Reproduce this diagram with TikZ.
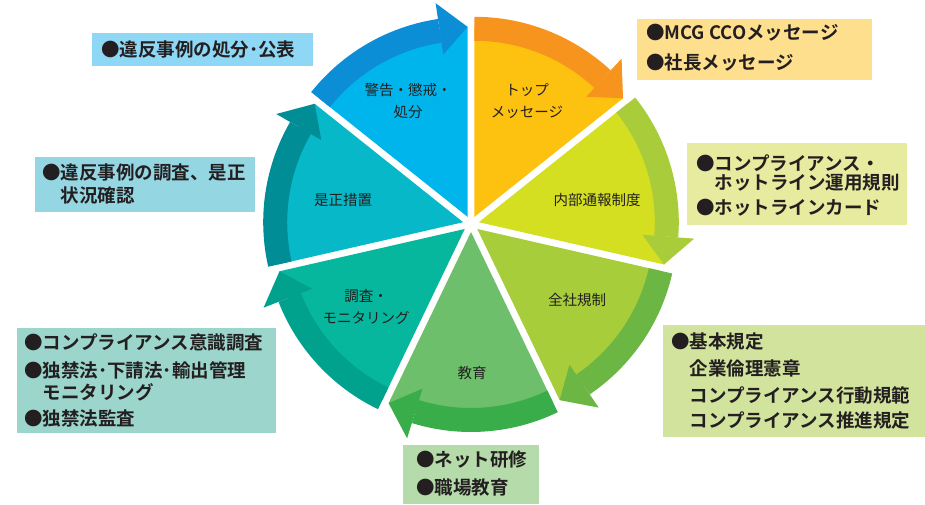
\documentclass[tikz,border=0pt]{standalone}
\usepackage{fontspec}
\newfontfamily\jp[BoldFont={Noto Sans CJK JP Bold}]{Noto Sans CJK JP}
\definecolor{txt}{HTML}{231F20}
\definecolor{kfill}{HTML}{00B5EC}\definecolor{kband}{HTML}{0B8ED6}
\definecolor{tfill}{HTML}{FDC210}\definecolor{tband}{HTML}{F7941E}
\definecolor{nfill}{HTML}{D5DF22}\definecolor{nband}{HTML}{A9CD3A}
\definecolor{zfill}{HTML}{A8CD3A}\definecolor{zband}{HTML}{6CB744}
\definecolor{efill}{HTML}{6DBF6B}\definecolor{eband}{HTML}{38AD4A}
\definecolor{cfill}{HTML}{06B79E}\definecolor{cband}{HTML}{00A28D}
\definecolor{sfill}{HTML}{07B8C8}\definecolor{sband}{HTML}{008D96}
\definecolor{boxA}{HTML}{8ED8F6}\definecolor{boxB}{HTML}{95D6E3}
\definecolor{boxC}{HTML}{9BD5CB}\definecolor{boxD}{HTML}{B4DBA9}
\definecolor{boxE}{HTML}{D1E39D}\definecolor{boxF}{HTML}{E6EB9F}
\definecolor{boxG}{HTML}{FDDF8E}
\newcommand\wsector[4]{%
 \begin{scope}[shift={({(#1+#2)/2}:8pt)}]
  \fill[#3] (0,0) -- (#1:190pt) arc[start angle=#1, end angle=#2, radius=190pt] -- cycle;
  \fill[#4] ({#1+8.5}:176pt) arc[start angle={#1+8.5}, end angle=#2, radius=176pt]
     -- (#2:200pt) arc[start angle=#2, end angle={#1+8.5}, radius=200pt] -- cycle;
  \fill[#4] ({#1+8.5}:164pt) -- ({#1+8.5}:216pt) -- (#1:190pt) -- cycle;
 \end{scope}}
\tikzset{
 lbl/.style={text=txt, font=\jp\fontsize{14.5}{22}\selectfont, align=center, inner sep=0pt},
 btxt/.style={text=txt, font=\jp\bfseries\fontsize{18.5}{24}\selectfont, anchor=west, inner sep=0pt}
}
\begin{document}
\begin{tikzpicture}[x=1pt,y=1pt]
\useasboundingbox (0,0) rectangle (925,504);
% wheel
\begin{scope}[shift={(471,280)}]
 \wsector{38.57}{90}{tfill}{tband}
 \wsector{-12.86}{38.57}{nfill}{nband}
 \wsector{-64.29}{-12.86}{zfill}{zband}
 \wsector{-115.71}{-64.29}{efill}{eband}
 \wsector{-167.14}{-115.71}{cfill}{cband}
 \wsector{141.43}{192.86}{sfill}{sband}
 \wsector{90}{141.43}{kfill}{kband}
\end{scope}
% sector labels (screen y -> 504-y)
\node[lbl] (lk) at (408,403) {警告・懲戒・\\処分};
\node[lbl] (lt) at (527,403) {トップ\\メッセージ};
\node[lbl] (ln) at (597,304) {内部通報制度};
\node[lbl] (lz) at (577,204) {全社規制};
\node[lbl] (le) at (472,131) {教育};
\node[lbl] (lc) at (366,197) {調査・\\モニタリング};
\node[lbl] (ls) at (343,304) {是正措置};
% boxes
\fill[boxA] (92,471) rectangle (313,438);
\fill[boxB] (35,347) rectangle (255,292);
\fill[boxC] (17,176) rectangle (276,71);
\fill[boxD] (403,59) rectangle (539,0);
\fill[boxE] (663,179) rectangle (925,67);
\fill[boxF] (687,361) rectangle (907,279);
\fill[boxG] (637,485) rectangle (872,424);
% box texts
\node[btxt] (a1) at (101,454) {●違反事例の処分･公表};
\node[btxt] (b1) at (42,331) {●違反事例の調査、是正};
\node[btxt] (b2) at (60.5,309) {状況確認};
\node[btxt] (c1) at (24,162) {●コンプライアンス意識調査};
\node[btxt] (c2) at (24,134) {●独禁法･下請法･輸出管理};
\node[btxt] (c3) at (42.5,112) {モニタリング};
\node[btxt] (c4) at (24,86) {●独禁法監査};
\node[btxt] (d1) at (416,44) {●ネット研修};
\node[btxt] (d2) at (416,16) {●職場教育};
\node[btxt] (e1) at (671,162) {●基本規定};
\node[btxt] (e2) at (689.5,136) {企業倫理憲章};
\node[btxt] (e3) at (689.5,109) {コンプライアンス行動規範};
\node[btxt] (e4) at (689.5,84) {コンプライアンス推進規定};
\node[btxt] (f1) at (696,341) {●コンプライアンス・};
\node[btxt] (f2) at (714.5,321) {ホットライン運用規則};
\node[btxt] (f3) at (696,296) {●ホットラインカード};
\node[btxt] (g1) at (646,471) {●MCG CCOメッセージ};
\node[btxt] (g2) at (646,441) {●社長メッセージ};
\end{tikzpicture}
\end{document}
